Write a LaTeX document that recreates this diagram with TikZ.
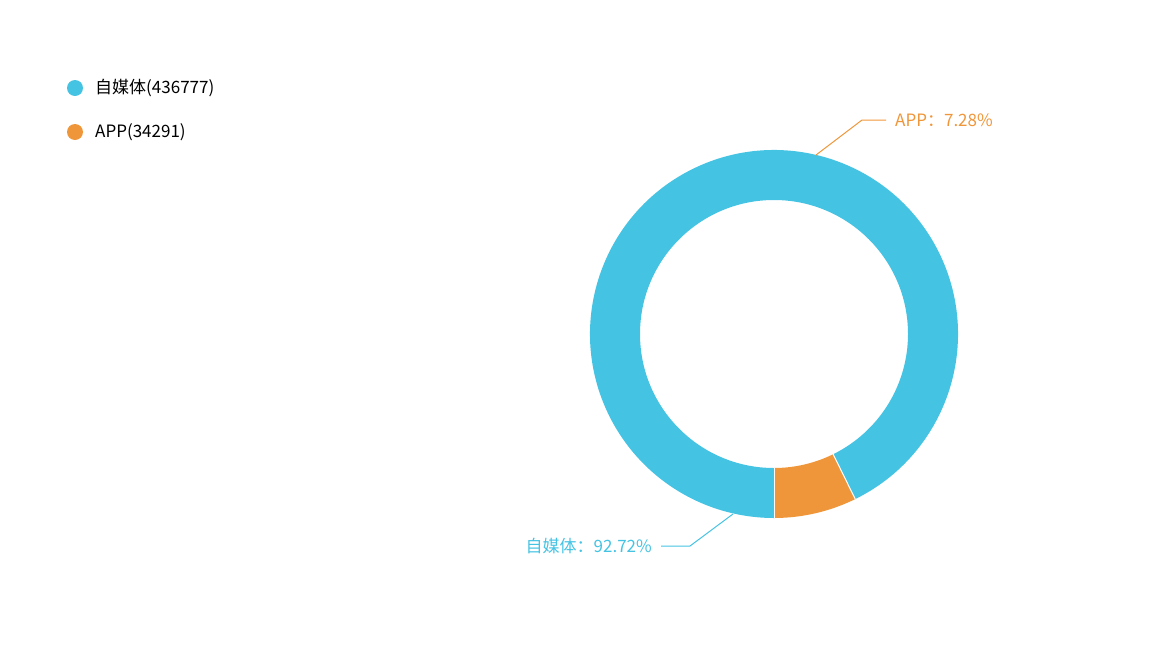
\documentclass[tikz,border=0pt]{standalone}
\usepackage{fontspec}
\setmainfont{Noto Sans CJK SC}
\definecolor{cblue}{HTML}{45C3E3}
\definecolor{corange}{HTML}{F0963A}
\begin{document}
\begin{tikzpicture}[x=1pt,y=-1pt,
  lbl/.style={font=\fontsize{17}{20}\selectfont,inner sep=0pt}]
\useasboundingbox (0,0) rectangle (1176,667);
\coordinate (c) at (774,334);
\fill[cblue] ([shift={(63.8:184)}]c) arc[start angle=63.8,end angle=-270,radius=184]
  -- ([shift={(90:134)}]c) arc[start angle=90,end angle=423.8,radius=134] -- cycle;
\fill[corange] ([shift={(90:184)}]c) arc[start angle=90,end angle=63.8,radius=184]
  -- ([shift={(63.8:134)}]c) arc[start angle=63.8,end angle=90,radius=134] -- cycle;
\draw[white,line width=1pt] ([shift={(90:134)}]c) -- ([shift={(90:184)}]c);
\draw[white,line width=1pt] ([shift={(63.8:134)}]c) -- ([shift={(63.8:184)}]c);
% legend
\fill[cblue] (75,88) circle (8);
\node[lbl,anchor=west] (l1) at (95,88) {自媒体(436777)};
\fill[corange] (75,132) circle (8);
\node[lbl,anchor=west] (l2) at (95,132) {APP(34291)};
% labels
\coordinate (a0) at ([shift={(-76.9:-184)}]c);
\coordinate (a0) at (816,155);
\coordinate (a1) at (862,120);
\coordinate (a2) at (886,120);
\draw[corange,line width=1pt] (a0) -- (a1) -- (a2);
\node[lbl,anchor=west,text=corange] (t1) at (895,120) {APP：7.28\%};
\coordinate (b0) at (733,514);
\coordinate (b1) at (690,546);
\coordinate (b2) at (661,546);
\draw[cblue,line width=1pt] (b0) -- (b1) -- (b2);
\node[lbl,anchor=east,text=cblue] (t2) at (652,546) {自媒体：92.72\%};
\end{tikzpicture}
\end{document}
